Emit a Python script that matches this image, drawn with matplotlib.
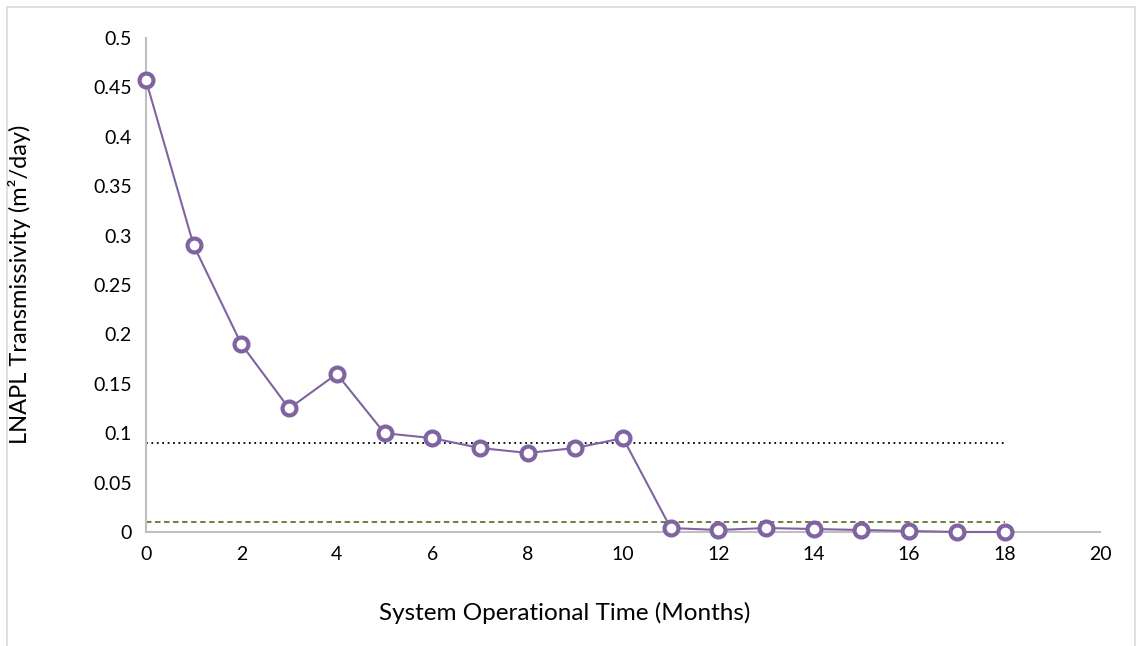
import matplotlib
matplotlib.use("Agg")
import matplotlib.pyplot as plt
from matplotlib.patches import Rectangle

# Data
months = list(range(19))
transmissivity = [0.457, 0.29, 0.19, 0.125, 0.16, 0.10, 0.095, 0.085, 0.08, 0.085,
                  0.095, 0.004, 0.002, 0.004, 0.003, 0.002, 0.001, 0.0, 0.0]
upper_level = 0.09
lower_level = 0.01
ref_x = [0, 18]

y_ticks = [0, 0.05, 0.1, 0.15, 0.2, 0.25, 0.3, 0.35, 0.4, 0.45, 0.5]
y_tick_labels = ["0", "0.05", "0.1", "0.15", "0.2", "0.25", "0.3", "0.35", "0.4", "0.45", "0.5"]
x_ticks = [0, 2, 4, 6, 8, 10, 12, 14, 16, 18, 20]

plt.rcParams["font.family"] = ["Lato", "DejaVu Sans"]

fig = plt.figure(figsize=(11.38, 6.46), dpi=100)
ax = fig.add_axes([0.1283, 0.1765, 0.8383, 0.7647])

# Outer chart border
fig.patches.append(Rectangle((7 / 1138, -0.01), 1 - 10 / 1138, 1 - 7 / 646 + 0.01,
                             transform=fig.transFigure, fill=False,
                             edgecolor="#d9d9d9", linewidth=1.2))

ax.plot(ref_x, [upper_level, upper_level], color="black", linestyle=(0, (1, 2)), linewidth=1.3)
ax.plot(ref_x, [lower_level, lower_level], color="#5f7530", linestyle=(0, (3, 2)), linewidth=1.3)
ax.plot(months, transmissivity, color="#8064a2", linewidth=1.5, marker="o",
        markersize=10, markerfacecolor="white", markeredgecolor="#8064a2",
        markeredgewidth=3, zorder=3, clip_on=False)

ax.set_xlim(0, 20)
ax.set_ylim(0, 0.5)
ax.set_xticks(x_ticks)
ax.set_yticks(y_ticks)
ax.set_yticklabels(y_tick_labels)
ax.tick_params(length=0, labelsize=14, pad=10)
for side in ["top", "right"]:
    ax.spines[side].set_visible(False)
for side in ["left", "bottom"]:
    ax.spines[side].set_color("#bfbfbf")
    ax.spines[side].set_linewidth(1.5)

fig.text(0.4965, 1 - 613 / 646, "System Operational Time (Months)", fontsize=17.5,
         ha="center", va="center")
fig.text(20 / 1138, 1 - 284 / 646, "LNAPL Transmissivity (m²/day)", fontsize=17,
         ha="center", va="center", rotation=90)

fig.savefig("out.png", dpi=100)
